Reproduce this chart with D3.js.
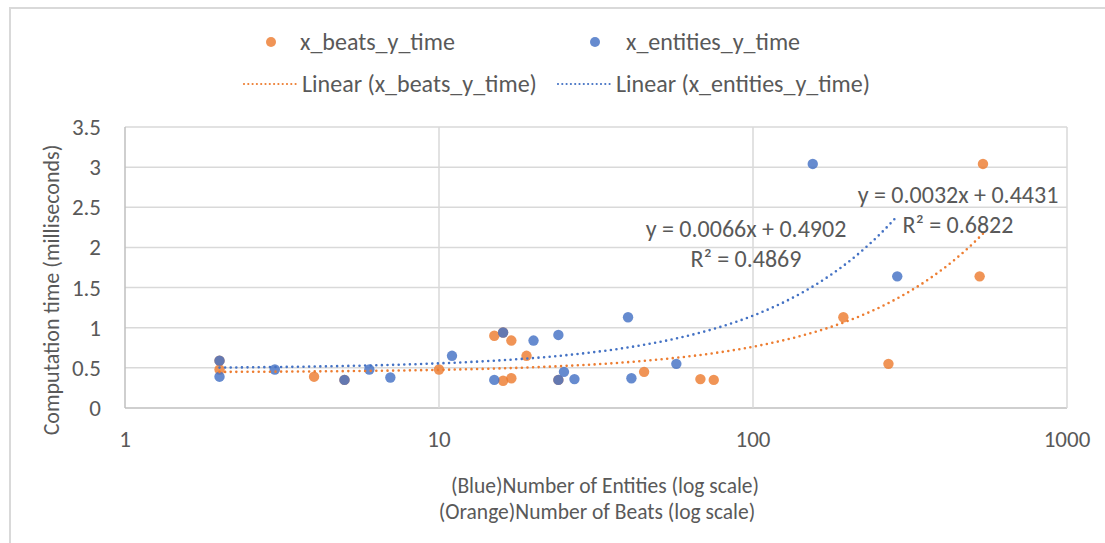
<!DOCTYPE html>
<html>
<head>
<meta charset="utf-8">
<script src="https://cdn.jsdelivr.net/npm/d3@7"></script>
<style>
  body { margin: 0; background: #fff; }
  text { font-family: Calibri, Carlito, Lato, sans-serif; fill: #595959; }
</style>
</head>
<body>
<svg id="chart" width="1105" height="543"></svg>
<script>
// beats series (orange): x = number of beats, y = ms
var beatsX = [2, 2, 4, 5, 10, 15, 16, 17, 19, 16, 17, 24, 45, 68, 75, 194, 270, 527, 540];
var beatsY = [0.48, 0.59, 0.39, 0.35, 0.48, 0.90, 0.94, 0.84, 0.65, 0.34, 0.37, 0.35, 0.45, 0.36, 0.35, 1.13, 0.55, 1.64, 3.04];

// entities series (blue): x = number of entities, y = ms
var entX = [2, 2, 3, 5, 6, 7, 11, 15, 16, 20, 24, 24, 25, 27, 40, 41, 57, 155, 288];
var entY = [0.39, 0.59, 0.48, 0.35, 0.48, 0.38, 0.65, 0.35, 0.94, 0.84, 0.91, 0.35, 0.45, 0.36, 1.13, 0.37, 0.55, 3.04, 1.64];

// trendline coefficients as printed on the chart [slope, intercept]
var beatsFit = [0.0032, 0.4431];
var entFit = [0.0066, 0.4902];
var beatsR2 = "0.6822";
var entR2 = "0.4869";

var xTicks = [1, 10, 100, 1000];
var yTicks = [0, 0.5, 1, 1.5, 2, 2.5, 3, 3.5];

var orange = "#ED7D31", blue = "#4472C4";

var svg = d3.select("#chart"),
    margin = { top: 127, right: 38, bottom: 135, left: 125 },
    width = +svg.attr("width") - margin.left - margin.right,
    height = +svg.attr("height") - margin.top - margin.bottom;

svg.append("rect").attr("width", 1105).attr("height", 543).attr("fill", "#fff");

// outer chart border (only top and left are inside the picture)
svg.append("path")
    .attr("d", "M10,543V8H1105")
    .attr("fill", "none")
    .attr("stroke", "#d9d9d9")
    .attr("stroke-width", 2);

var g = svg.append("g").attr("transform", "translate(" + margin.left + "," + margin.top + ")");

var x = d3.scaleLog().domain([1, 1000]).range([0, width]);
var y = d3.scaleLinear().domain([0, 3.5]).range([height, 0]);

// gridlines
g.selectAll(".hgrid")
  .data(yTicks)
  .enter().append("line")
    .attr("x1", 0).attr("x2", width)
    .attr("y1", function (d) { return y(d); })
    .attr("y2", function (d) { return y(d); })
    .attr("stroke", function (d) { return d === 0 ? "#bfbfbf" : "#d9d9d9"; })
    .attr("stroke-width", 1.5);

g.selectAll(".vgrid")
  .data(xTicks)
  .enter().append("line")
    .attr("x1", function (d) { return x(d); })
    .attr("x2", function (d) { return x(d); })
    .attr("y1", 0).attr("y2", height)
    .attr("stroke", function (d) { return d === 1 ? "#bfbfbf" : "#d9d9d9"; })
    .attr("stroke-width", 1.5);

// tick labels
g.selectAll(".ylab")
  .data(yTicks)
  .enter().append("text")
    .attr("x", -24)
    .attr("y", function (d) { return y(d); })
    .attr("dy", "0.35em")
    .attr("text-anchor", "end")
    .style("font-size", "23px")
    .text(function (d) { return d; });

g.selectAll(".xlab")
  .data(xTicks)
  .enter().append("text")
    .attr("x", function (d) { return x(d); })
    .attr("y", height + 31)
    .attr("dy", "0.35em")
    .attr("text-anchor", "middle")
    .style("font-size", "23px")
    .text(function (d) { return d; });

// axis titles
svg.append("text")
    .attr("transform", "translate(51,290) rotate(-90)")
    .attr("dy", "0.35em")
    .attr("text-anchor", "middle")
    .style("font-size", "22px")
    .text("Computation time (milliseconds)");

svg.append("text")
    .attr("x", 605).attr("y", 485).attr("dy", "0.35em")
    .attr("text-anchor", "middle")
    .style("font-size", "21.5px")
    .text("(Blue)Number of Entities (log scale)");

svg.append("text")
    .attr("x", 597).attr("y", 511).attr("dy", "0.35em")
    .attr("text-anchor", "middle")
    .style("font-size", "21.5px")
    .text("(Orange)Number of Beats (log scale)");

// trendlines, sampled along the log axis
function trend(xs, fit) {
    var ext = d3.extent(xs);
    var p0 = x(ext[0]), p1 = x(ext[1]);
    return d3.range(0, 121).map(function (i) {
        var v = x.invert(p0 + (p1 - p0) * i / 120);
        return [v, fit[0] * v + fit[1]];
    });
}

var line = d3.line()
    .x(function (d) { return x(d[0]); })
    .y(function (d) { return y(d[1]); });

function drawTrend(xs, fit, color) {
    g.append("path")
        .datum(trend(xs, fit))
        .attr("d", line)
        .attr("fill", "none")
        .attr("stroke", color)
        .attr("stroke-width", 2.6)
        .attr("stroke-linecap", "round")
        .attr("stroke-dasharray", "0,5.6");
}

// points
function drawDots(xs, ys, color) {
    g.append("g").selectAll("circle")
      .data(xs.map(function (v, i) { return [v, ys[i]]; }))
      .enter().append("circle")
        .attr("cx", function (d) { return x(d[0]); })
        .attr("cy", function (d) { return y(d[1]); })
        .attr("r", 5.2)
        .attr("fill", color)
        .attr("fill-opacity", 0.82);
}

drawDots(beatsX, beatsY, orange);
drawDots(entX, entY, blue);
drawTrend(beatsX, beatsFit, orange);
drawTrend(entX, entFit, blue);

// equation labels
function eqLabel(cx, cy, fit, r2) {
    svg.append("text")
        .attr("x", cx).attr("y", cy).attr("dy", "0.35em")
        .attr("text-anchor", "middle")
        .style("font-size", "24px")
        .text("y = " + fit[0] + "x + " + fit[1]);
    svg.append("text")
        .attr("x", cx).attr("y", cy + 30).attr("dy", "0.35em")
        .attr("text-anchor", "middle")
        .style("font-size", "24px")
        .text("R\u00B2 = " + r2);
}
eqLabel(746, 229, entFit, entR2);
eqLabel(958, 195, beatsFit, beatsR2);

// legend
var leg = svg.append("g");
leg.append("circle").attr("cx", 271).attr("cy", 42).attr("r", 5).attr("fill", orange).attr("fill-opacity", 0.82);
leg.append("text").attr("x", 300).attr("y", 42).attr("dy", "0.35em").style("font-size", "24px").text("x_beats_y_time");
leg.append("circle").attr("cx", 595).attr("cy", 42).attr("r", 5).attr("fill", blue).attr("fill-opacity", 0.82);
leg.append("text").attr("x", 626).attr("y", 42).attr("dy", "0.35em").style("font-size", "24px").text("x_entities_y_time");

[[244, orange, "Linear (x_beats_y_time)"], [558, blue, "Linear (x_entities_y_time)"]].forEach(function (e) {
    leg.append("line")
        .attr("x1", e[0]).attr("x2", e[0] + 52)
        .attr("y1", 84).attr("y2", 84)
        .attr("stroke", e[1])
        .attr("stroke-width", 2.2)
        .attr("stroke-linecap", "round")
        .attr("stroke-dasharray", "0,4.3");
    leg.append("text").attr("x", e[0] + 58).attr("y", 84).attr("dy", "0.35em")
        .style("font-size", "24px").text(e[2]);
});
</script>
</body>
</html>
